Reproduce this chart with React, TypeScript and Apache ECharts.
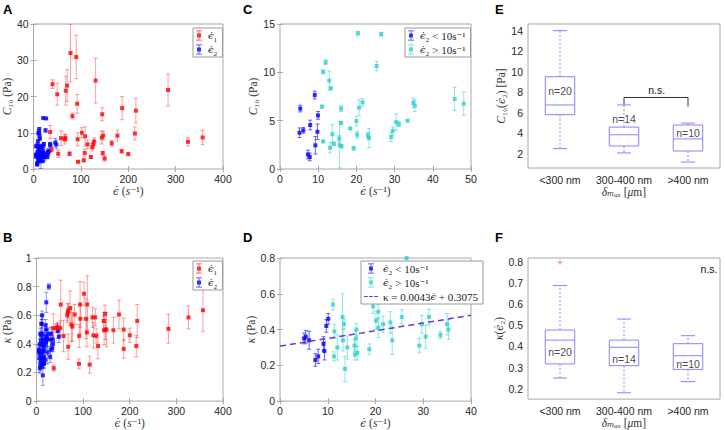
import React, { useEffect, useRef } from 'react';
import * as echarts from 'echarts';

// ---------- DATA ----------
// Panel A: C10 (Pa) vs strain rate, eps1 series [rate, C10, err]
const aEps1: number[][] = [
  [40, 23.4, 1.2], [50, 20.6, 3], [68, 21.6, 4], [71, 23, 4.4], [78, 32, 8], [90, 30.9, 6], [92, 18, 2.6],
  [82, 14.6, 0.8], [131, 24.4, 6.2], [145, 15.1, 1.8], [187, 16.8, 3.2], [216, 16.1, 3.4], [284, 21.8, 4.4],
  [326, 7.5, 1.1], [357, 8.7, 2], [35, 10.2, 1.8], [38, 5.4, 0.6], [52, 4.2, 1], [58, 8.5, 2], [66, 8.2, 1.3],
  [67, 8.6, 1], [76, 4.2, 0.5], [93, 8.2, 1.8], [94, 2, 0.3], [102, 10, 1.4], [109, 9, 2.6], [108, 4.4, 1],
  [106, 2.4, 0.4], [114, 6.8, 1.2], [121, 3.3, 0.4], [124, 6, 1], [126, 6.8, 1], [128, 7.6, 1], [144, 8.7, 1.8],
  [147, 9.2, 1.2], [146, 4.4, 0.5], [150, 2.9, 0.7], [165, 7.1, 0.8], [177, 9.2, 1.5], [186, 4.9, 0.5],
  [200, 4.1, 0.4], [214, 9.8, 1.8],
];
// extra eps2 points of panel A not shown in C
const aEps2Extra: number[][] = [
  [6, 3.4, 0.5], [8, 6.5, 0.6], [10, 9.8, 1], [12, 5, 0.7], [14, 3, 0.5], [17, 6, 0.5], [19, 3.6, 0.6], [24, 4.3, 0.5],
];
// Panel B: kappa (Pa) vs strain rate, eps1 series
const bEps1: number[][] = [
  [36, 0.51, 0.1], [37, 0.23, 0.02], [42, 0.51, 0.03], [45, 0.52, 0.03], [51, 0.51, 0.05], [52, 0.675, 0.17],
  [58, 0.455, 0.11], [66, 0.6, 0.05], [67, 0.62, 0.06], [68, 0.63, 0.05], [68, 0.38, 0.09], [72, 0.65, 0.12],
  [75, 0.535, 0.12], [77, 0.52, 0.1], [82, 0.605, 0.07], [91, 0.26, 0.035], [91.5, 0.455, 0.08], [93.5, 0.675, 0.16],
  [94, 0.575, 0.1], [102, 0.75, 0.08], [106, 0.575, 0.14], [109, 0.675, 0.2], [108, 0.48, 0.1], [114, 0.255, 0.06],
  [120, 0.585, 0.07], [122, 0.46, 0.09], [126, 0.585, 0.06], [128, 0.455, 0.05], [132, 0.385, 0.09], [144, 0.56, 0.06],
  [145, 0.495, 0.1], [147, 0.61, 0.06], [148, 0.5, 0.07], [150, 0.5, 0.12], [165, 0.495, 0.09], [177, 0.605, 0.1],
  [187, 0.5, 0.08], [187, 0.365, 0.065], [200, 0.46, 0.05], [214, 0.385, 0.075], [216, 0.56, 0.115],
  [283, 0.505, 0.1], [326, 0.585, 0.08], [357, 0.635, 0.15],
];
const bEps2Extra: number[][] = [
  [21, 0.69, 0.07], [10.5, 0.54, 0.06], [45.7, 0.49, 0.05], [48.1, 0.45, 0.04], [8, 0.47, 0.04], [12, 0.6, 0.03],
  [6, 0.3, 0.03], [7, 0.4, 0.04], [14, 0.43, 0.05], [17, 0.38, 0.04],
];
// Panel C: C10 vs eps2
const cLow: number[][] = [
  [5.1, 3.75, 0.5], [5.3, 6.25, 0.35], [6.1, 4.0, 0.3], [7.3, 1.5, 0.45], [7.8, 1.25, 0.4], [7.9, 4.55, 0.5],
  [9.1, 7.65, 0.4], [9.25, 2.45, 0.9], [9.8, 3.85, 0.8], [9.95, 5.55, 0.4],
];
const cHigh: number[][] = [
  [11, 6.45, 0.15], [11.3, 10.05, 0.2], [11.3, 2.85, 0.1], [11.95, 11.05, 0.25], [12.9, 9.15, 1], [13.3, 8.35, 0.1],
  [13.1, 2.2, 0.55], [13.7, 3.6, 1], [14.1, 2.6, 0.2], [15.5, 3.15, 0.3], [15.6, 2.5, 2.4], [16, 4.75, 0.15],
  [16.1, 2.35, 0.15], [16, 6.25, 0.3], [18.4, 4.2, 0.1], [19.3, 2.15, 0.2], [20, 4.95, 0.5], [20.2, 3.55, 0.35],
  [20.4, 14.05, 0.2], [20.7, 6.35, 0.8], [21.6, 6.9, 0.4], [23, 3.5, 0.3], [23.3, 3.2, 1], [25.3, 10.65, 0.5],
  [26.5, 13.95, 0.2], [29.1, 3.3, 0.45], [29.5, 3.95, 0.4], [30.4, 4.85, 0.85], [31.1, 4.65, 0.25], [33.4, 5.0, 0.1],
  [34.9, 6.85, 0.5], [35.3, 6.55, 0.6], [45.7, 7.25, 1.2], [48.1, 6.75, 1.2],
];
// Panel D: kappa vs eps2
const dLow: number[][] = [
  [5.05, 0.35, 0.03], [5.4, 0.36, 0.035], [6.1, 0.34, 0.05], [7.4, 0.23, 0.035], [8, 0.25, 0.04],
  [9.1, 0.32, 0.04], [9.3, 0.28, 0.05], [9.7, 0.42, 0.035], [10.1, 0.46, 0.03],
];
const dHigh: number[][] = [
  [11.1, 0.54, 0.03], [11.4, 0.39, 0.04], [11.3, 0.25, 0.025], [12, 0.3, 0.07], [13.1, 0.47, 0.13], [13.2, 0.34, 0.06],
  [13.4, 0.43, 0.025], [13.6, 0.18, 0.07], [14.1, 0.3, 0.065], [15.6, 0.31, 0.035], [15.7, 0.26, 0.03],
  [15.9, 0.35, 0.045], [16, 0.4, 0.035], [16.2, 0.27, 0.04], [18.7, 0.29, 0.03], [19.5, 0.53, 0.04], [20.1, 0.45, 0.05],
  [20.6, 0.5, 0.04], [20.6, 0.41, 0.055], [21.6, 0.43, 0.045], [23.1, 0.44, 0.06], [23.5, 0.34, 0.08],
  [25.5, 0.47, 0.04], [26.5, 0.8, 0.02], [29.2, 0.31, 0.04], [29.7, 0.43, 0.05], [30.5, 0.36, 0.065],
  [31.2, 0.47, 0.045], [33.6, 0.37, 0.02], [35, 0.43, 0.06], [35.3, 0.4, 0.055],
];
const fitSlope = 0.0043;
const fitIntercept = 0.3075;
const fitRange = [0, 40];
// Panels E, F: box plots [category, min, q1, median, q3, max]
const boxCategories = ['<300 nm', '300-400 nm', '>400 nm'];
const boxCounts = ['n=20', 'n=14', 'n=10'];
const eBoxes: number[][] = [
  [0, 2.49, 5.8, 6.75, 9.51, 14.0],
  [1, 2.07, 2.75, 3.84, 4.59, 6.75],
  [2, 1.18, 2.26, 3.44, 4.79, 4.98],
];
const eCountY = [8.1, 5.39, 4.06];
const eBracket: number[][] = [[1, 6.8], [1, 7.48], [2, 7.48], [2, 6.6]];
const fBoxes: number[][] = [
  [0, 0.25, 0.317, 0.43, 0.478, 0.689],
  [1, 0.18, 0.309, 0.396, 0.43, 0.53],
  [2, 0.233, 0.291, 0.356, 0.413, 0.451],
];
const fOutliers: number[][] = [[0, 0.8]];
const fCountY = [0.372, 0.342, 0.318];
const eTicks = [2, 4, 6, 8, 10, 12, 14];
const fTicks = [0.2, 0.3, 0.4, 0.5, 0.6, 0.7, 0.8];

// ---------- STYLE ----------
const SANS = '"Liberation Sans", Arial, Helvetica, sans-serif';
const MATH = '"Liberation Serif", "DejaVu Serif", serif';
const GREEK = '"DejaVu Serif", serif';
const BORDER = '#a8a8a8';
const LABEL = '#262626';
const RED = '#ff0000';
const RED_ERR = 'rgba(255,0,0,0.38)';
const BLUE = '#0000ff';
const BLUE_ERR_A = 'rgba(0,0,255,0.42)';
const BLUE_ERR_C = 'rgba(0,0,255,0.6)';
const CYAN = '#30cfcf';
const CYAN_ERR = 'rgba(48,207,207,0.55)';
const BOX = '#8484ff';
const PURPLE = '#7330d8';
const ERRICON = 'path://M1,0H7V0.8H1Z M3.6,0H4.4V10H3.6Z M2,3H6V7H2Z M1,9.2H7V10H1Z';
const DASHICON = 'path://M0,0H5V1.4H0Z M7,0H12V1.4H7Z M14,0H19V1.4H14Z';
const PLUS = 'path://M0,4.4H10V5.6H0Z M4.4,0H5.6V10H4.4Z';

const GRIDS = [
  { left: 32, top: 24, width: 191, height: 145 },
  { left: 32, top: 258, width: 191, height: 144 },
  { left: 280, top: 24, width: 191, height: 145 },
  { left: 280, top: 258, width: 191, height: 144 },
  { left: 528, top: 24, width: 192, height: 144 },
  { left: 528, top: 258, width: 192, height: 143 },
];

const richMath = {
  i: { fontStyle: 'italic', fontFamily: MATH, fontSize: 11.5, color: '#333' },
  e: { fontStyle: 'italic', fontFamily: GREEK, fontSize: 10.5, color: '#333' },
};

function errSeries(data: number[][], idx: number, color: string) {
  return {
    type: 'custom',
    xAxisIndex: idx,
    yAxisIndex: idx,
    clip: true,
    silent: true,
    z: 1,
    data,
    encode: { x: 0, y: 1 },
    renderItem: (_p: any, api: any) => {
      const x = api.value(0);
      const y = api.value(1);
      const e = api.value(2);
      const a = api.coord([x, y - e]);
      const b = api.coord([x, y + e]);
      const cap = 2;
      const st = { stroke: color, lineWidth: 1 };
      return {
        type: 'group',
        children: [
          { type: 'line', shape: { x1: a[0], y1: a[1], x2: b[0], y2: b[1] }, style: st },
          { type: 'line', shape: { x1: a[0] - cap, y1: a[1], x2: a[0] + cap, y2: a[1] }, style: st },
          { type: 'line', shape: { x1: b[0] - cap, y1: b[1], x2: b[0] + cap, y2: b[1] }, style: st },
        ],
      };
    },
  };
}

function markSeries(name: string, data: number[][], idx: number, color: string) {
  return {
    type: 'scatter',
    name,
    xAxisIndex: idx,
    yAxisIndex: idx,
    data: data.map((d) => [d[0], d[1]]),
    symbol: 'rect',
    symbolSize: 4,
    itemStyle: { color },
    z: 3,
    silent: true,
  };
}

function boxSeries(data: number[][], idx: number) {
  return {
    type: 'custom',
    xAxisIndex: idx,
    yAxisIndex: idx,
    silent: true,
    data,
    encode: { x: 0, y: [1, 2, 3, 4, 5] },
    renderItem: (_p: any, api: any) => {
      const i = api.value(0);
      const pLo = api.coord([i, api.value(1)]);
      const pQ1 = api.coord([i, api.value(2)]);
      const pMd = api.coord([i, api.value(3)]);
      const pQ3 = api.coord([i, api.value(4)]);
      const pHi = api.coord([i, api.value(5)]);
      const bw = api.size([1, 0])[0];
      const hw = bw * 0.23;
      const cw = bw * 0.11;
      const x = pMd[0];
      const st = { stroke: BOX, lineWidth: 1, fill: 'none' };
      const dash = { stroke: BOX, lineWidth: 1, lineDash: [2, 2] };
      return {
        type: 'group',
        children: [
          { type: 'line', shape: { x1: x, y1: pQ3[1], x2: x, y2: pHi[1] }, style: dash },
          { type: 'line', shape: { x1: x, y1: pQ1[1], x2: x, y2: pLo[1] }, style: dash },
          { type: 'line', shape: { x1: x - cw, y1: pHi[1], x2: x + cw, y2: pHi[1] }, style: st },
          { type: 'line', shape: { x1: x - cw, y1: pLo[1], x2: x + cw, y2: pLo[1] }, style: st },
          { type: 'rect', shape: { x: x - hw, y: pQ3[1], width: 2 * hw, height: pQ1[1] - pQ3[1] }, style: st },
          { type: 'line', shape: { x1: x - hw, y1: pMd[1], x2: x + hw, y2: pMd[1] }, style: st },
        ],
      };
    },
  };
}

function countSeries(ys: number[], idx: number) {
  return {
    type: 'scatter',
    xAxisIndex: idx,
    yAxisIndex: idx,
    silent: true,
    symbolSize: 0,
    data: ys.map((y, i) => ({ value: [i, y], name: boxCounts[i] })),
    label: { show: true, position: 'inside', formatter: '{b}', color: '#111', fontSize: 10.5, fontFamily: SANS },
    z: 5,
  };
}

const tick = { inside: true, length: 3, lineStyle: { color: BORDER } };
const axLabel = { color: LABEL, fontSize: 10.5, fontFamily: SANS, showMinLabel: true, showMaxLabel: true };

function valX(i: number, min: number, max: number, interval: number, name: string, gap: number) {
  return {
    type: 'value', gridIndex: i, min, max, interval, name, nameLocation: 'middle', nameGap: gap,
    nameTextStyle: { fontFamily: MATH, fontSize: 11.5, color: '#333', rich: richMath },
    axisLine: { show: false }, axisTick: tick, axisLabel: { ...axLabel, margin: 4 }, splitLine: { show: false },
  };
}
function valY(i: number, min: number, max: number, interval: number | undefined, name: string, gap: number, custom?: number[], dec?: number) {
  const lbl: any = { ...axLabel, margin: 5 };
  const tk: any = { ...tick };
  if (custom) {
    lbl.customValues = custom;
    tk.customValues = custom;
    if (dec !== undefined) lbl.formatter = (v: number) => v.toFixed(dec);
  }
  return {
    type: 'value', gridIndex: i, min, max, interval, name, nameLocation: 'middle', nameGap: gap,
    nameTextStyle: { fontFamily: MATH, fontSize: 11.5, color: '#333', rich: richMath },
    axisLine: { show: false }, axisTick: tk, axisLabel: lbl, splitLine: { show: false },
  };
}
function mirror(ax: any, pos: string) {
  return { ...ax, position: pos, name: '', axisLabel: { ...ax.axisLabel, show: false } };
}
function catX(i: number, name: string, gap: number) {
  return {
    type: 'category', gridIndex: i, data: boxCategories, boundaryGap: true, name, nameLocation: 'middle', nameGap: gap,
    nameTextStyle: { fontFamily: MATH, fontSize: 11.5, color: '#333', rich: richMath },
    axisLine: { show: false }, axisTick: { ...tick, alignWithLabel: true, interval: 0 },
    axisLabel: { color: LABEL, fontSize: 10.5, fontFamily: SANS, margin: 6, interval: 0 }, splitLine: { show: false },
  };
}

const N1 = 'ϵ̇₁';
const N2 = 'ϵ̇₂';
const NLOW = 'ϵ̇₂ < 10s⁻¹';
const NHIGH = 'ϵ̇₂ > 10s⁻¹';
const NFIT = 'κ = 0.0043ϵ̇ + 0.3075';
const X_NAME = '{e|ϵ̇} ({i|s}⁻¹)';

function buildOption() {
  const xs: any[] = [
    valX(0, 0, 400, 100, X_NAME, 14),
    valX(1, 0, 400, 100, X_NAME, 14),
    valX(2, 0, 50, 10, X_NAME, 14),
    valX(3, 0, 40, 10, X_NAME, 14),
    catX(4, '{i|δ}{i|ₘₐₓ} [{i|μ}m]', 17),
    catX(5, '{i|δ}{i|ₘₐₓ} [{i|μ}m]', 17),
  ];
  const ys: any[] = [
    valY(0, 0, 40, 10, '{i|C}₁₀ (Pa)', 13),
    valY(1, 0, 1, 0.2, '{i|κ} (Pa)', 20),
    valY(2, 0, 15, 5, '{i|C}₁₀ (Pa)', 13),
    valY(3, 0, 0.8, 0.2, '{i|κ} (Pa)', 20),
    valY(4, 0.6, 14.65, undefined, '{i|C}₁₀({e|ϵ̇}₂) [Pa]', 19, eTicks),
    valY(5, 0.15, 0.82, undefined, '{i|κ}({e|ϵ̇}₂)', 23, fTicks, 1),
  ];
  const xAxis = [...xs, ...xs.map((a) => mirror(a, 'top'))];
  const yAxis = [...ys, ...ys.map((a) => mirror(a, 'right'))];

  const aBlue = [...cLow, ...cHigh, ...aEps2Extra];
  const bBlue = [...dLow, ...dHigh, ...bEps2Extra];
  const fitLine = fitRange.map((x) => [x, fitSlope * x + fitIntercept]);

  const series: any[] = [
    errSeries(aBlue, 0, BLUE_ERR_A), errSeries(aEps1, 0, RED_ERR),
    markSeries(N2, aBlue, 0, BLUE), markSeries(N1, aEps1, 0, RED),
    errSeries(bBlue, 1, BLUE_ERR_A), errSeries(bEps1, 1, RED_ERR),
    markSeries(N2, bBlue, 1, BLUE), markSeries(N1, bEps1, 1, RED),
    errSeries(cLow, 2, BLUE_ERR_C), errSeries(cHigh, 2, CYAN_ERR),
    markSeries(NLOW, cLow, 2, BLUE), markSeries(NHIGH, cHigh, 2, CYAN),
    errSeries(dLow, 3, BLUE_ERR_C), errSeries(dHigh, 3, CYAN_ERR),
    markSeries(NLOW, dLow, 3, BLUE), markSeries(NHIGH, dHigh, 3, CYAN),
    {
      type: 'line', name: NFIT, xAxisIndex: 3, yAxisIndex: 3, data: fitLine, symbol: 'none', silent: true,
      lineStyle: { color: PURPLE, width: 1.5, type: [6, 4] }, itemStyle: { color: PURPLE }, z: 4,
    },
    boxSeries(eBoxes, 4),
    countSeries(eCountY, 4),
    {
      type: 'line', xAxisIndex: 4, yAxisIndex: 4, data: eBracket, symbol: 'none', silent: true,
      lineStyle: { color: '#333', width: 1 },
    },
    boxSeries(fBoxes, 5),
    countSeries(fCountY, 5),
    {
      type: 'scatter', xAxisIndex: 5, yAxisIndex: 5, data: fOutliers, symbol: PLUS, symbolSize: 5,
      itemStyle: { color: RED }, silent: true,
    },
  ];

  const legBase = {
    orient: 'vertical', selectedMode: false, itemWidth: 8, itemHeight: 10, itemGap: 3,
    padding: [2, 5, 2, 3], borderColor: '#9a9a9a', borderWidth: 1, backgroundColor: '#fff', borderRadius: 0,
    formatter: (n: string) => n.replace('ϵ̇', '{e|ϵ̇}'),
    textStyle: {
      fontFamily: MATH, fontSize: 11, color: '#222',
      rich: { e: { fontFamily: GREEK, fontStyle: 'italic', fontSize: 10, color: '#222' } },
    },
  };
  const li = (n: string) => ({ name: n, icon: ERRICON });
  const legend = [
    { ...legBase, left: 193, top: 28, data: [li(N1), li(N2)] },
    { ...legBase, left: 193, top: 261, data: [li(N1), li(N2)] },
    { ...legBase, left: 405, top: 28, data: [li(NLOW), li(NHIGH)] },
    { ...legBase, left: 361, top: 261, itemWidth: 14, data: [li(NLOW), li(NHIGH), { name: NFIT, icon: DASHICON }] },
  ];

  const letter = (t: string, x: number, y: number) => ({
    type: 'text', left: x, top: y, style: { text: t, font: `bold 13px ${SANS}`, fill: '#000' },
  });
  const graphic = [
    letter('A', 3, 3), letter('B', 3, 231), letter('C', 243, 3),
    letter('D', 243, 231), letter('E', 495, 3), letter('F', 495, 231),
    { type: 'text', x: 656.7, y: 90.3, style: { text: 'n.s.', font: `10.5px ${SANS}`, fill: '#111', align: 'center', verticalAlign: 'middle' } },
    { type: 'text', x: 717.5, y: 269, style: { text: 'n.s.', font: `10.5px ${SANS}`, fill: '#111', align: 'right', verticalAlign: 'middle' } },
  ];

  return {
    animation: false,
    backgroundColor: '#fff',
    grid: GRIDS.map((g) => ({ ...g, show: true, borderColor: BORDER, borderWidth: 1, backgroundColor: 'transparent' })),
    xAxis,
    yAxis,
    legend,
    series,
    graphic,
  };
}

export default function App() {
  const ref = useRef<HTMLDivElement>(null);
  useEffect(() => {
    if (!ref.current) return;
    const chart = echarts.init(ref.current, undefined, { renderer: 'svg' });
    chart.setOption(buildOption() as any);
    return () => chart.dispose();
  }, []);
  return <div ref={ref} style={{ position: 'fixed', left: 0, top: 0, width: 725, height: 430, background: '#fff' }} />;
}
